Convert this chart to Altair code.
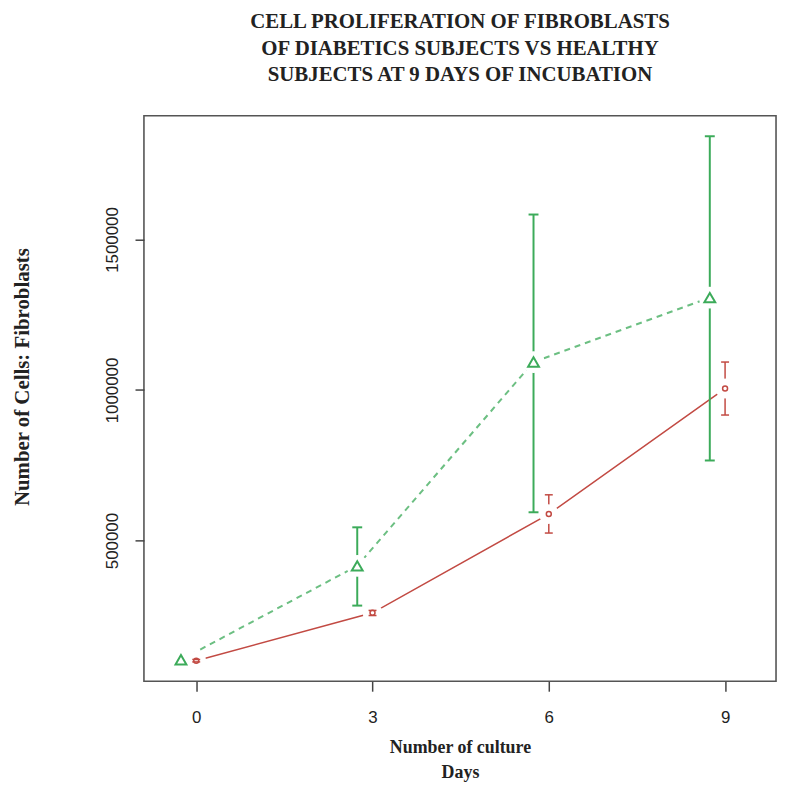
import altair as alt
import pandas as pd

# ---- data ----
days = [0, 3, 6, 9]
green_mean = [104000, 416000, 1093000, 1307000]
green_low = [104000, 284000, 594000, 766000]
green_high = [104000, 544000, 1583000, 1843000]
red_mean = [101000, 260000, 588000, 1005000]
red_low = [97000, 251000, 525000, 917000]
red_high = [105000, 268000, 652000, 1093000]
green_shift = -0.26
red_shift = 0.0
x_ticks = [0, 3, 6, 9]
y_ticks = [500000, 1000000, 1500000]
title_lines = ["CELL PROLIFERATION OF FIBROBLASTS",
               "OF DIABETICS SUBJECTS VS HEALTHY",
               "SUBJECTS AT 9 DAYS OF INCUBATION"]
x_title = ["Number of culture", "Days"]
y_title = "Number of Cells: Fibroblasts"

GREEN = "#3cab5a"
GREEN_LINE = "#6cbf82"
RED = "#c24a43"

rows = []
for d, m, lo, hi in zip(days, green_mean, green_low, green_high):
    rows.append({"series": "green", "day": d, "shift": green_shift, "mean": m, "low": lo, "high": hi})
for d, m, lo, hi in zip(days, red_mean, red_low, red_high):
    rows.append({"series": "red", "day": d, "shift": red_shift, "mean": m, "low": lo, "high": hi})
df = pd.DataFrame(rows)

W, H = 637, 570

x_enc = alt.X("xpos:Q",
              scale=alt.Scale(domain=[-0.89, 9.867], nice=False, zero=False),
              axis=alt.Axis(values=x_ticks, format="d", grid=False, domain=False,
                            tickSize=10, tickColor="#444444", tickWidth=1.5,
                            labelFont="Liberation Sans", labelFontSize=17, labelColor="#222222",
                            labelBaseline="alphabetic", labelPadding=32,
                            title=x_title, titleFont="Liberation Serif", titleFontWeight="bold",
                            titleFontSize=18, titleColor="#222222", titleLineHeight=25,
                            titleBaseline="alphabetic", titleAlign="center",
                            titleX=W / 2, titleY=71.5))
y_axis = alt.Axis(values=y_ticks, format="d", grid=False, domain=False,
                  tickSize=9, tickColor="#444444", tickWidth=1.5,
                  labelFont="Liberation Sans", labelFontSize=17, labelColor="#222222",
                  labelAngle=270, labelAlign="center", labelBaseline="alphabetic",
                  labelPadding=18,
                  title=y_title, titleFont="Liberation Serif", titleFontWeight="bold",
                  titleFontSize=21, titleColor="#222222", titleAngle=270,
                  titleAlign="center", titleBaseline="alphabetic",
                  titleX=-116, titleY=263)
y_scale = alt.Scale(domain=[32620, 1911340], nice=False, zero=False)


def ymean():
    return alt.Y("mean:Q", scale=y_scale, axis=y_axis)


def ylow():
    return alt.Y("low:Q", scale=y_scale, axis=y_axis)


def yhigh():
    return alt.Y("high:Q", scale=y_scale, axis=y_axis)


base = alt.Chart(df).transform_calculate(xpos="datum.day + datum.shift")
g = base.transform_filter("datum.series == 'green'")
r = base.transform_filter("datum.series == 'red'")
g_bar = g.transform_filter("datum.high > datum.low")

layers = [
    # lines
    g.mark_line(color=GREEN_LINE, strokeWidth=2, strokeDash=[6, 5]).encode(x=x_enc, y=ymean()),
    r.mark_line(color=RED, strokeWidth=1.5).encode(x=x_enc, y=ymean()),
    # error bar stems
    g_bar.mark_rule(color=GREEN, strokeWidth=2).encode(x=x_enc, y=ylow(), y2="high:Q"),
    r.mark_rule(color=RED, strokeWidth=1.5).encode(x=x_enc, y=ylow(), y2="high:Q"),
    # white gaps around the points
    g.mark_circle(color="white", opacity=1, size=484).encode(x=x_enc, y=ymean()),
    r.mark_circle(color="white", opacity=1, size=400).encode(x=x_enc, y=ymean()),
    # caps
    g_bar.mark_point(shape="stroke", size=100, strokeWidth=2, color=GREEN, opacity=1).encode(x=x_enc, y=ylow()),
    g_bar.mark_point(shape="stroke", size=100, strokeWidth=2, color=GREEN, opacity=1).encode(x=x_enc, y=yhigh()),
    r.mark_point(shape="stroke", size=64, strokeWidth=1.5, color=RED, opacity=1).encode(x=x_enc, y=ylow()),
    r.mark_point(shape="stroke", size=64, strokeWidth=1.5, color=RED, opacity=1).encode(x=x_enc, y=yhigh()),
    # markers
    g.mark_point(shape="triangle-up", size=120, strokeWidth=2, filled=False, color=GREEN, opacity=1).encode(x=x_enc, y=ymean()),
    r.mark_point(shape="circle", size=25, strokeWidth=1.5, filled=False, color=RED, opacity=1).encode(x=x_enc, y=ymean()),
]

chart = alt.layer(*layers).properties(
    width=W, height=H,
    title=alt.Title(title_lines, font="Liberation Serif", fontWeight="bold", fontSize=21,
                    color="#222222", lineHeight=26.5, anchor="middle", offset=31),
    autosize=alt.AutoSizeParams(type="none"),
    padding={"left": 137, "top": 105.5, "right": 3, "bottom": 100},
).configure(background="white").configure_view(stroke="#555555", strokeWidth=1.6)

chart.save("out.html", embed_options={"renderer": "svg", "actions": False})
